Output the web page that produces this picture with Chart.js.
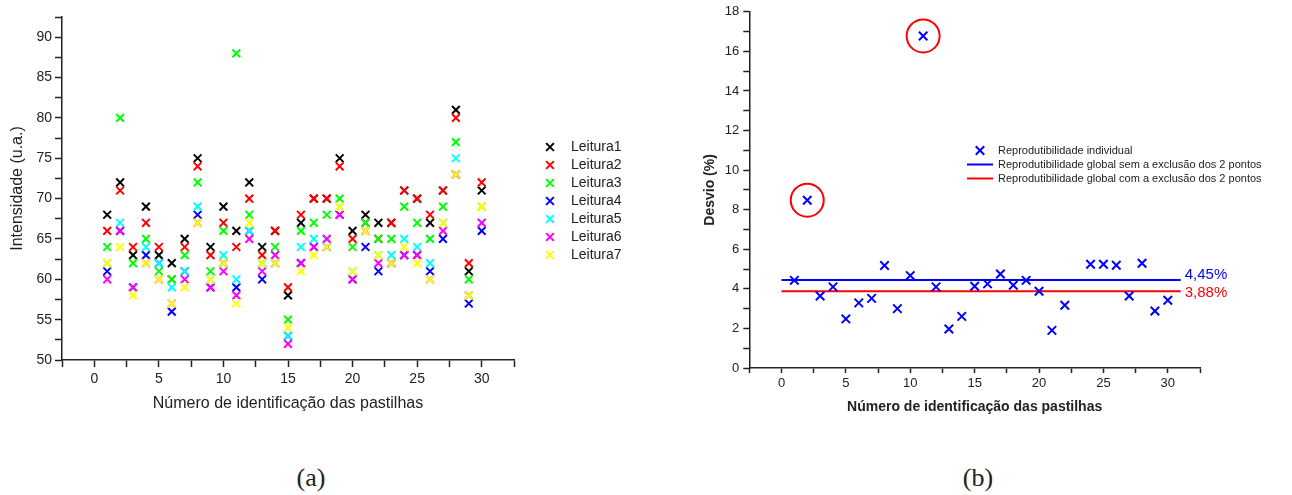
<!DOCTYPE html>
<html>
<head>
<meta charset="utf-8">
<script src="https://cdn.jsdelivr.net/npm/chart.js"></script>
<style>
  body { margin: 0; background: #fff; }
  #wrap { position: relative; width: 1292px; height: 495px; overflow: hidden; }
  .box { position: absolute; top: 0; }
  .cap { position: absolute; top: 463px; width: 60px; text-align: center; font-family: 'Liberation Serif', 'DejaVu Serif', serif; font-size: 26px; color: #222; line-height: 30px; }
</style>
</head>
<body>
<div id="wrap">
  <div class="box" style="left:0px"><canvas id="leituras" width="650" height="420"></canvas></div>
  <div class="box" style="left:650px"><canvas id="desvio" width="642" height="420"></canvas></div>
  <div class="cap" style="left:281px">(a)</div>
  <div class="cap" style="left:948px">(b)</div>
</div>
<script>
// --- dados (a): intensidade de cada leitura por pastilha
const pastilhas = [1,2,3,4,5,6,7,8,9,10,11,12,13,14,15,16,17,18,19,20,21,22,23,24,25,26,27,28,29,30];
const leitura1 = [68,72,63,69,63,62,65,75,64,69,66,72,64,66,58,67,70,70,75,66,68,67,67,71,70,67,71,81,61,71];
const leitura2 = [66,71,64,67,64,60,64,74,63,67,64,70,63,66,59,68,70,70,74,65,67,65,67,71,70,68,71,80,62,72];
const leitura3 = [64,80,62,65,61,60,63,72,61,66,88,68,62,64,55,66,67,68,70,64,67,65,65,69,67,65,69,77,60,69];
const leitura4 = [61,66,59,63,62,56,61,68,59,62,59,66,60,62,53,62,64,64,68,60,64,61,62,63,63,61,65,73,57,66];
const leitura5 = [62,67,59,64,62,59,61,69,60,63,60,66,62,63,53,64,65,65,69,61,66,63,63,65,64,62,67,75,58,67];
const leitura6 = [60,66,59,62,60,57,60,67,59,61,58,65,61,63,52,62,64,65,68,60,66,62,62,63,63,60,66,73,58,67];
const leitura7 = [62,64,58,62,60,57,59,67,60,62,57,67,62,62,54,61,63,64,69,61,66,63,62,64,62,60,67,73,58,69];
const leituraNomes = ['Leitura1','Leitura2','Leitura3','Leitura4','Leitura5','Leitura6','Leitura7'];
const leituraCores = ['#000000','#ff0000','#00ff00','#0000ff','#00ffff','#ff00ff','#ffff00'];

// --- dados (b): desvio por pastilha (a 23 não aparece)
const desvioPastilhas = [1,2,3,4,5,6,7,8,9,10,11,12,13,14,15,16,17,18,19,20,21,22,24,25,26,27,28,29,30];
const desvio = [4.43,8.48,3.64,4.10,2.48,3.29,3.52,5.18,3.00,4.67,16.78,4.10,1.97,2.61,4.13,4.25,4.75,4.18,4.43,3.88,1.90,3.17,5.24,5.24,5.19,3.64,5.29,2.88,3.42];
const outliers = [2, 11];
const globalSem = 4.45;
const globalCom = 3.88;
const linhaInicio = 0, linhaFim = 31;

const FONT = "'Liberation Sans', Arial, sans-serif";
const INK = '#222';
Chart.defaults.font.family = FONT;
Chart.defaults.color = INK;

// legenda desenhada à mão (a posição dentro do gráfico não existe no Chart.js)
const sideLegend = {
  id: 'sideLegend',
  afterDraw(chart, args, o) {
    const ctx = chart.ctx;
    let row = 0;
    ctx.save();
    ctx.font = o.font;
    ctx.textBaseline = 'middle';
    chart.data.datasets.forEach(ds => {
      if (!ds.label) return;
      const y = o.y + row * o.rowHeight;
      ctx.strokeStyle = ds.borderColor;
      ctx.lineWidth = ds.borderWidth;
      ctx.beginPath();
      if (ds.showLine) {
        ctx.moveTo(o.x - o.lineHalf, y);
        ctx.lineTo(o.x + o.lineHalf, y);
      } else {
        const r = ds.pointRadius * Math.SQRT1_2;
        ctx.moveTo(o.x - r, y - r); ctx.lineTo(o.x + r, y + r);
        ctx.moveTo(o.x + r, y - r); ctx.lineTo(o.x - r, y + r);
      }
      ctx.stroke();
      ctx.fillStyle = INK;
      ctx.fillText(ds.label, o.textX, y);
      row++;
    });
    ctx.restore();
  }
};

// rótulo "4,45%" no fim de cada linha horizontal
const lineLabels = {
  id: 'lineLabels',
  afterDatasetsDraw(chart) {
    const {ctx, scales: {x, y}} = chart;
    ctx.save();
    ctx.font = '15px ' + FONT;
    ctx.textBaseline = 'middle';
    chart.data.datasets.forEach(ds => {
      if (!ds.showLine) return;
      const last = ds.data[ds.data.length - 1];
      ctx.fillStyle = ds.borderColor;
      ctx.fillText(last.y.toFixed(2).replace('.', ',') + '%',
        x.getPixelForValue(last.x) + 4, y.getPixelForValue(last.y) + ds.labelShift);
    });
    ctx.restore();
  }
};

function axis(tickLen, extra) {
  return Object.assign({
    type: 'linear',
    grid: { drawOnChartArea: false, drawTicks: true, tickLength: tickLen, tickWidth: 1.5, color: INK },
    border: { display: true, color: INK, width: 1.5 }
  }, extra);
}

// ---------- (a)
const series = [leitura1, leitura2, leitura3, leitura4, leitura5, leitura6, leitura7];
new Chart(document.getElementById('leituras'), {
  type: 'scatter',
  data: {
    datasets: series.map((vals, i) => ({
      label: leituraNomes[i],
      data: pastilhas.map((p, k) => ({ x: p, y: vals[k] })),
      borderColor: leituraCores[i],
      backgroundColor: leituraCores[i],
      pointStyle: 'crossRot',
      pointRadius: 5.5,
      borderWidth: 2,
      order: series.length - i
    }))
  },
  options: {
    responsive: false,
    animation: false,
    layout: { autoPadding: false, padding: { left: 0, top: 17, right: 136, bottom: 6.4 } },
    plugins: {
      legend: { display: false },
      tooltip: { enabled: false },
      sideLegend: { x: 550, y: 147, rowHeight: 18, textX: 571, lineHalf: 13, font: '14px ' + FONT }
    },
    scales: {
      x: axis(7, {
        min: -2.5, max: 32.5,
        ticks: { stepSize: 2.5, autoSkip: false, maxRotation: 0, padding: 4, font: { size: 14 },
                 callback: v => v % 5 === 0 ? v : '' },
        title: { display: true, text: 'Número de identificação das pastilhas', font: { size: 16 }, padding: 0 },
        afterFit: s => { s.height = 53.6; }
      }),
      y: axis(7, {
        min: 50, max: 92.5,
        ticks: { stepSize: 2.5, autoSkip: false, padding: 3, font: { size: 14 },
                 callback: v => v % 5 === 0 ? v : '' },
        title: { display: true, text: 'Intensidade (u.a.)', font: { size: 16 }, padding: { top: 8.4, bottom: 0 } },
        afterFit: s => { s.width = 62; }
      })
    }
  },
  plugins: [sideLegend]
});

// ---------- (b)
const BLUE = '#0000ff', RED = '#ff0000';
new Chart(document.getElementById('desvio'), {
  type: 'scatter',
  data: {
    datasets: [
      {
        label: 'Reprodutibilidade individual',
        data: desvioPastilhas.map((p, k) => ({ x: p, y: desvio[k] })),
        borderColor: BLUE, backgroundColor: BLUE,
        pointStyle: 'crossRot', pointRadius: 6, borderWidth: 2
      },
      {
        label: 'Reprodutibilidade global sem a exclusão dos 2 pontos',
        data: [{ x: linhaInicio, y: globalSem }, { x: linhaFim, y: globalSem }],
        showLine: true, borderColor: BLUE, borderWidth: 2, pointRadius: 0, labelShift: -5.5
      },
      {
        label: 'Reprodutibilidade global com a exclusão dos 2 pontos',
        data: [{ x: linhaInicio, y: globalCom }, { x: linhaFim, y: globalCom }],
        showLine: true, borderColor: RED, borderWidth: 2, pointRadius: 0, labelShift: 2
      },
      {
        data: outliers.map(p => ({ x: p, y: desvio[desvioPastilhas.indexOf(p)] })),
        pointStyle: 'circle', pointRadius: 16.5, borderColor: RED, borderWidth: 2,
        backgroundColor: 'rgba(0,0,0,0)', clip: false
      }
    ]
  },
  options: {
    responsive: false,
    animation: false,
    layout: { autoPadding: false, padding: { left: 0, top: 11, right: 92, bottom: 4.6 } },
    plugins: {
      legend: { display: false },
      tooltip: { enabled: false },
      sideLegend: { x: 330, y: 150.5, rowHeight: 14, textX: 348, lineHalf: 13, font: '11px ' + FONT }
    },
    scales: {
      x: axis(5, {
        min: -2.5, max: 32.5,
        ticks: { stepSize: 2.5, autoSkip: false, maxRotation: 0, padding: 3, font: { size: 13 },
                 callback: v => v % 5 === 0 ? v : '' },
        title: { display: true, text: 'Número de identificação das pastilhas', font: { size: 14, weight: 'bold' }, padding: 0 },
        afterFit: s => { s.height = 47.4; }
      }),
      y: axis(6, {
        min: 0, max: 18,
        ticks: { stepSize: 1, autoSkip: false, padding: 4, font: { size: 13 },
                 callback: v => v % 2 === 0 ? v : '' },
        title: { display: true, text: 'Desvio (%)', font: { size: 14, weight: 'bold' }, padding: { top: 51.6, bottom: 0 } },
        afterFit: s => { s.width = 99.3; }
      })
    }
  },
  plugins: [sideLegend, lineLabels]
});
</script>
</body>
</html>
